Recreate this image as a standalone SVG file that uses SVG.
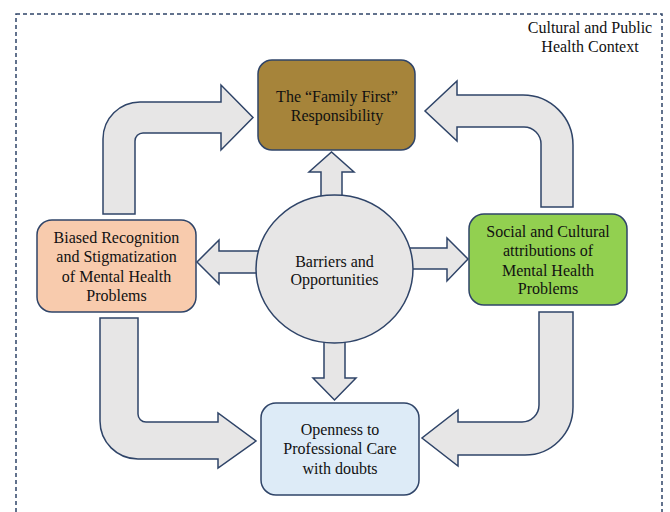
<svg xmlns="http://www.w3.org/2000/svg" width="670" height="512" viewBox="0 0 670 512">
  <style>
    .frame { fill: none; stroke: #2F4468; stroke-width: 1.5; stroke-dasharray: 4 3; }
    .arrow { fill: #E7E6E6; stroke: #2F4468; stroke-width: 1.5; stroke-linejoin: miter; }
    .box { stroke: #2F4468; stroke-width: 1.5; }
    .t { font-family: "Liberation Serif", "Times New Roman", serif; font-size: 16px; fill: #111; text-anchor: middle; }
  </style>
  <rect width="670" height="512" fill="#ffffff"/>
  <g id="context">
    <rect class="frame" x="16" y="14" width="646" height="520"/>
    <text class="t" x="590" y="33">Cultural and Public</text>
    <text class="t" x="590" y="52">Health Context</text>
  </g>
  <g id="connectors">
    <path class="arrow" d="M 103 214 L 103 139 A 37 37 0 0 1 140 102 L 221 102 L 221 85 L 253 117.5 L 221 150 L 221 133 L 143 133 A 8 8 0 0 0 135 141 L 135 214 Z"/>
    <path class="arrow" d="M 573 207 L 573 145 A 50 50 0 0 0 523 95 L 457 95 L 457 81 L 425 111 L 457 141 L 457 127 L 524 127 A 17 17 0 0 1 541 144 L 541 207 Z"/>
    <path class="arrow" d="M 100 318 L 100 421 A 38 38 0 0 0 138 459 L 218 459 L 218 468 L 256 441 L 218 413 L 218 422 L 146 422 A 8 8 0 0 1 138 414 L 138 318 Z"/>
    <path class="arrow" d="M 573 312 L 573 407 A 48 48 0 0 1 525 455 L 458 455 L 458 466 L 422 438 L 458 410 L 458 422 L 522 422 A 17 17 0 0 0 539 405 L 539 312 Z"/>
    <path class="arrow" d="M 321 200 L 321 172 L 309 172 L 331.5 152 L 354 172 L 342 172 L 342 200 Z"/>
    <path class="arrow" d="M 262 251 L 219 251 L 219 240 L 197 262 L 219 284 L 219 273 L 262 273 Z"/>
    <path class="arrow" d="M 408 248 L 447 248 L 447 238 L 468 259 L 447 281 L 447 269 L 408 269 Z"/>
    <path class="arrow" d="M 324 338 L 324 378 L 313 378 L 334.5 400 L 356 378 L 345 378 L 345 338 Z"/>
  </g>
  <g id="family-first">
    <rect class="box" x="258" y="60" width="157" height="90" rx="14" fill="#A6843A"/>
    <text class="t" x="337" y="102">The “Family First”</text>
    <text class="t" x="337" y="121">Responsibility</text>
  </g>
  <g id="biased-recognition">
    <rect class="box" x="37" y="220" width="159" height="92" rx="15" fill="#F8CBAD"/>
    <text class="t" x="116.5" y="243">Biased Recognition</text>
    <text class="t" x="116.5" y="262">and Stigmatization</text>
    <text class="t" x="116.5" y="282">of Mental Health</text>
    <text class="t" x="116.5" y="301">Problems</text>
  </g>
  <g id="social-cultural">
    <rect class="box" x="469" y="214" width="158" height="91" rx="15" fill="#92D050"/>
    <text class="t" x="548" y="237">Social and Cultural</text>
    <text class="t" x="548" y="256">attributions of</text>
    <text class="t" x="548" y="276">Mental Health</text>
    <text class="t" x="548" y="294">Problems</text>
  </g>
  <g id="openness">
    <rect class="box" x="261" y="403" width="158" height="92" rx="15" fill="#DDEBF7"/>
    <text class="t" x="340" y="435">Openness to</text>
    <text class="t" x="340" y="454">Professional Care</text>
    <text class="t" x="340" y="474">with doubts</text>
  </g>
  <g id="barriers">
    <ellipse class="box" cx="334.5" cy="269" rx="78.5" ry="74" fill="#E7E6E6"/>
    <text class="t" x="334.5" y="267">Barriers and</text>
    <text class="t" x="334.5" y="285">Opportunities</text>
  </g>
</svg>
